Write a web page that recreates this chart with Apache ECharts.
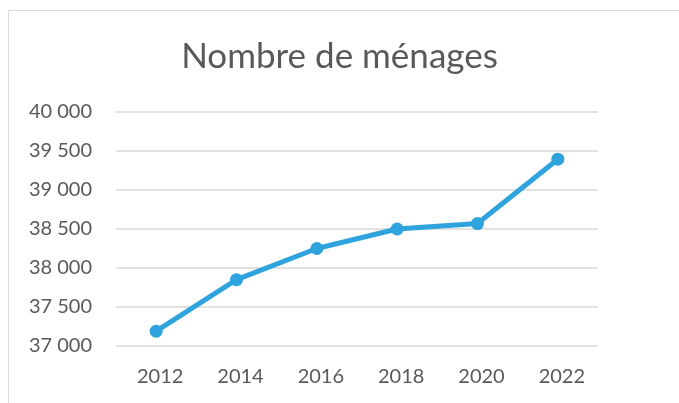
<!DOCTYPE html>
<html>
<head>
<meta charset="utf-8">
<script src="https://cdn.jsdelivr.net/npm/echarts@6/dist/echarts.min.js"></script>
<style>
  html, body { margin: 0; padding: 0; background: #fff; }
  #chart { width: 679px; height: 403px; }
</style>
</head>
<body>
<div id="chart"></div>
<script>
var years = ['2012', '2014', '2016', '2018', '2020', '2022'];
var menages = [37190, 37850, 38250, 38500, 38570, 39395];
var yMin = 37000, yMax = 40000, yStep = 500;

function fmt(v) {
  return String(v).replace(/\B(?=(\d{3})+(?!\d))/g, ' ');
}

var myChart = echarts.init(document.getElementById('chart'));
var option = {
  backgroundColor: '#fff',
  animation: false,
  title: {
    text: 'Nombre de ménages',
    left: 'center',
    top: 34,
    textStyle: { fontFamily: 'Lato', fontSize: 35, fontWeight: 'normal', color: '#595959' }
  },
  graphic: [
    { type: 'line', shape: { x1: 8.5, y1: 10.5, x2: 679, y2: 10.5 }, style: { stroke: '#d9d9d9', lineWidth: 1 } },
    { type: 'line', shape: { x1: 8.5, y1: 10.5, x2: 8.5, y2: 403 }, style: { stroke: '#d9d9d9', lineWidth: 1 } }
  ],
  grid: { left: 116, right: 81, top: 112, bottom: 57 },
  xAxis: {
    type: 'category',
    data: years,
    boundaryGap: true,
    axisLine: { show: false },
    axisTick: { show: false },
    axisLabel: { fontFamily: 'Lato', fontSize: 20, color: '#595959', margin: 21, padding: [0, 0, 0, 8] }
  },
  yAxis: {
    type: 'value',
    min: yMin,
    max: yMax,
    interval: yStep,
    axisLine: { show: false },
    axisTick: { show: false },
    splitLine: { lineStyle: { color: '#d9d9d9', width: 1.5 } },
    axisLabel: { fontFamily: 'Lato', fontSize: 20, color: '#595959', margin: 24, formatter: fmt }
  },
  series: [{
    type: 'line',
    data: menages,
    symbol: 'circle',
    symbolSize: 13,
    lineStyle: { color: '#2EA3DD', width: 5 },
    itemStyle: { color: '#2EA3DD' }
  }]
};
myChart.setOption(option);
window.addEventListener('resize', () => { myChart.resize() });
</script>
</body>
</html>
